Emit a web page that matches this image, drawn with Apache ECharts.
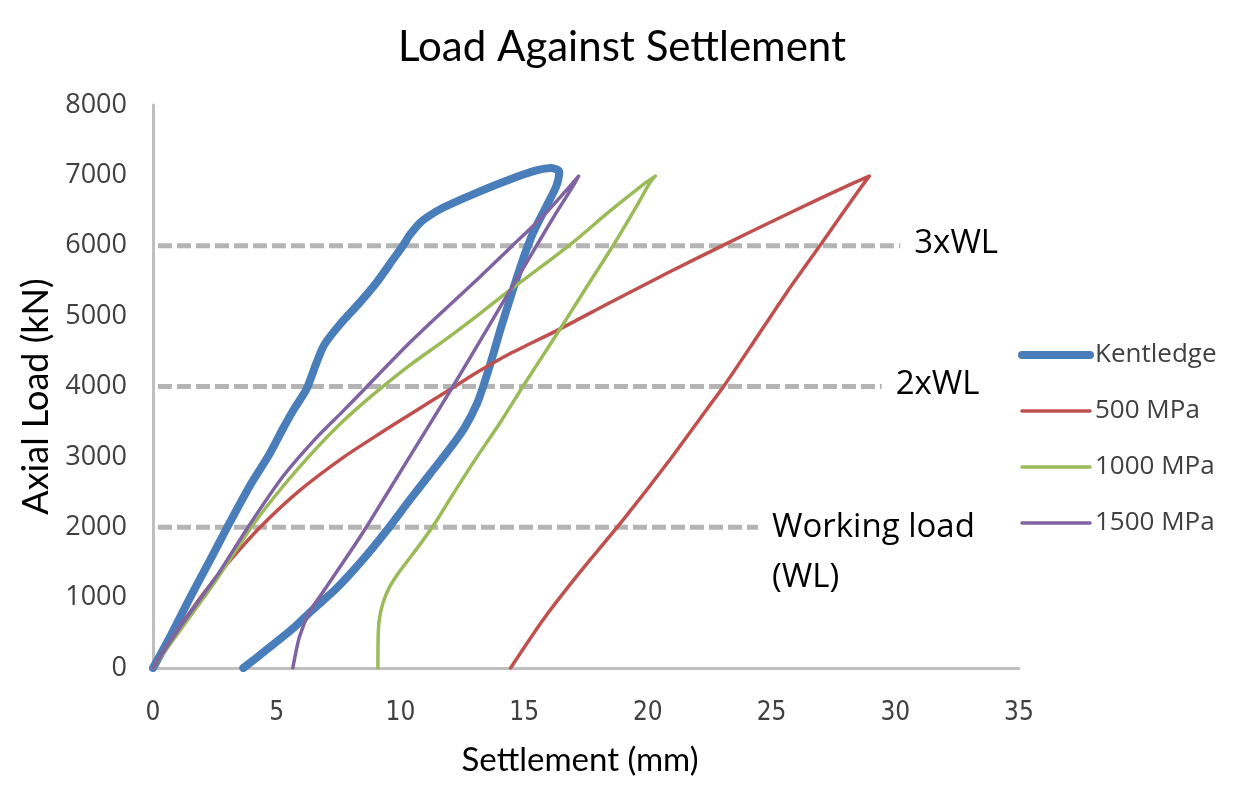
<!DOCTYPE html>
<html>
<head>
<meta charset="utf-8">
<script src="https://cdn.jsdelivr.net/npm/echarts@6/dist/echarts.min.js"></script>
<style>
html,body{margin:0;padding:0;background:#fff;}
#chart{width:1244px;height:791px;}
</style>
</head>
<body>
<div id="chart"></div>
<script>
// ---- Data (settlement mm, axial load kN) ----
const seriesNames = ['Kentledge', '500 MPa', '1000 MPa', '1500 MPa'];

const kentledge = [
  [0,0],[0.7,450],[1.5,1000],[2.3,1530],[3.0,2000],[3.9,2580],[4.71,3040],[5.25,3400],
  [5.7,3680],[6.2,3960],[6.6,4330],[6.9,4580],[7.5,4860],[8.35,5190],[9.02,5470],
  [9.7,5804],[10.1,6000],[10.37,6150],[10.8,6330],[11.18,6430],[11.72,6540],[13.07,6752],
  [14.42,6942],[15.5,7070],[16.1,7105],[16.42,7050],
  [16.3,6847],[15.9,6562],[15.36,6183],[14.95,5804],[14.42,5235],[14.05,4820],[13.7,4400],
  [13.4,4060],[13.1,3760],[12.6,3420],[12.0,3120],[11.2,2760],[10.4,2400],[9.5,1980],
  [8.48,1540],[7.41,1130],[6.46,830],[5.65,560],[4.58,256],[3.65,0]
];

const mpa500 = [
  [0,0],[1,540],[2,1040],[3,1480],[4.3,1990],[5.92,2520],[7.68,2990],[9.29,3360],[10.37,3600],
  [12.1,3980],[13.07,4195],[14.42,4465],[16.3,4790],[18.46,5190],[20.89,5630],[23.18,6030],
  [24.93,6330],[26.95,6670],[28.3,6890],[28.95,6990],
  [28.55,6800],[27.08,6064],[25.6,5330],[24.25,4619],[23.11,4026],[22.37,3670],[20.89,2959],
  [19.0,2105],[17.11,1299],[15.76,683],[14.45,0]
];

const mpa1000 = [
  [0,0],[1.2,588],[2.56,1252],[4.04,2034],[5.25,2579],[6.6,3120],[7.6,3480],[8.48,3760],
  [9.4,4030],[10.37,4300],[11.72,4640],[13.07,4997],[14.42,5370],[15.76,5720],[17.11,6088],
  [18.46,6491],[19.81,6870],[20.3,6990],
  [20.08,6894],[19.54,6560],[18.59,6000],[17.52,5410],[16.44,4810],[15.5,4300],[14.95,4000],
  [14.0,3470],[13.0,2950],[12.0,2400],[11.4,2060],[10.8,1760],[10.37,1560],[9.9,1340],
  [9.56,1150],[9.3,930],[9.15,700],[9.1,450],[9.09,0]
];

const mpa1500 = [
  [0,0],[1.2,636],[2.56,1299],[3.9,2034],[5.25,2721],[6.6,3270],[7.68,3650],[8.62,3990],
  [10.37,4620],[11.72,5070],[13.07,5510],[14.42,5966],[15.76,6420],[16.71,6790],[17.2,6990],
  [16.98,6850],[16.3,6470],[15.5,6000],[14.42,5360],[13.61,4880],[12.8,4400],[12.12,4000],
  [11.58,3690],[10.37,3000],[9.56,2537],[8.62,2000],[7.95,1640],[6.87,1080],[6.33,800],
  [5.92,445],[5.65,0]
];

// reference load levels
const refNames = ['Working load\n(WL)', '2xWL', '3xWL'];
const refLoads = [2000, 4000, 6000];
const refStart = [0.2, 0.2, 0.2];
const refEnd = [24.45, 29.45, 30.2];

const xTicks = {min: 0, max: 35, interval: 5};
const yTicks = {min: 0, max: 8000, interval: 1000};

// ---- Chart ----
const colors = ['#4a7ebb', '#c0504d', '#9bbb59', '#8064a2'];
const curves = [kentledge, mpa500, mpa1000, mpa1500];
const widths = [8, 3.5, 3.5, 3.5];

const chart = echarts.init(document.getElementById('chart'), null, {renderer: 'canvas'});

const series = [];
refLoads.forEach((v, i) => {
  series.push({
    type: 'line',
    name: 'ref' + i,
    data: [[refStart[i], v], [refEnd[i], v]],
    symbol: 'none',
    silent: true,
    z: 1,
    lineStyle: {color: '#b4b4b4', width: 5, type: [14, 5]},
    endLabel: {
      show: true,
      formatter: refNames[i],
      distance: 14,
      color: '#000',
      fontFamily: 'Open Sans',
      fontSize: 33,
      lineHeight: 50,
      offset: i === 0 ? [0, 25] : [0, -2]
    }
  });
});
curves.forEach((d, i) => {
  series.push({
    type: 'line',
    name: seriesNames[i],
    data: d,
    symbol: 'none',
    smooth: 0.25,
    z: 3 + i,
    lineStyle: {color: colors[i], width: widths[i], cap: 'round', join: 'round'},
    itemStyle: {color: colors[i]}
  });
});

chart.setOption({
  animation: false,
  title: {
    text: 'Load Against Settlement',
    left: 'center',
    top: 21,
    textStyle: {fontFamily: 'Lato', fontWeight: 'normal', fontSize: 42, color: '#000'}
  },
  legend: {
    data: seriesNames,
    orient: 'vertical',
    left: 1018,
    top: 342,
    padding: 0,
    itemWidth: 68,
    itemHeight: 14,
    itemGap: 30,
    itemStyle: {opacity: 0},
    lineStyle: {width: 'inherit', cap: 'round'},
    textStyle: {fontFamily: 'Open Sans', fontSize: 26, color: '#404040', lineHeight: 26}
  },
  grid: {left: 153, right: 225, top: 105, bottom: 123, containLabel: false},
  xAxis: {
    type: 'value',
    min: xTicks.min, max: xTicks.max, interval: xTicks.interval,
    name: 'Settlement (mm)',
    nameLocation: 'middle',
    nameGap: 76,
    nameTextStyle: {fontFamily: 'Lato', fontSize: 33, color: '#000', padding: [0, 12, 0, 0]},
    axisLine: {lineStyle: {color: '#bfbfbf', width: 3}},
    axisTick: {show: false},
    splitLine: {show: false},
    axisLabel: {
      margin: 32,
      fontFamily: "'Liberation Sans Narrow', 'DejaVu Sans Condensed', sans-serif",
      fontSize: 26,
      color: '#404040'
    }
  },
  yAxis: {
    type: 'value',
    min: yTicks.min, max: yTicks.max, interval: yTicks.interval,
    name: 'Axial Load (kN)',
    nameLocation: 'middle',
    nameGap: 93,
    nameTextStyle: {fontFamily: 'Lato', fontSize: 36, color: '#000', padding: [0, 20, 0, 0]},
    axisLine: {show: true, lineStyle: {color: '#bfbfbf', width: 3}},
    axisTick: {show: false},
    splitLine: {show: false},
    axisLabel: {
      margin: 26,
      fontFamily: 'Open Sans',
      fontSize: 27,
      color: '#404040',
      formatter: function (v) { return String(v); }
    }
  },
  series: series
});
</script>
</body>
</html>
